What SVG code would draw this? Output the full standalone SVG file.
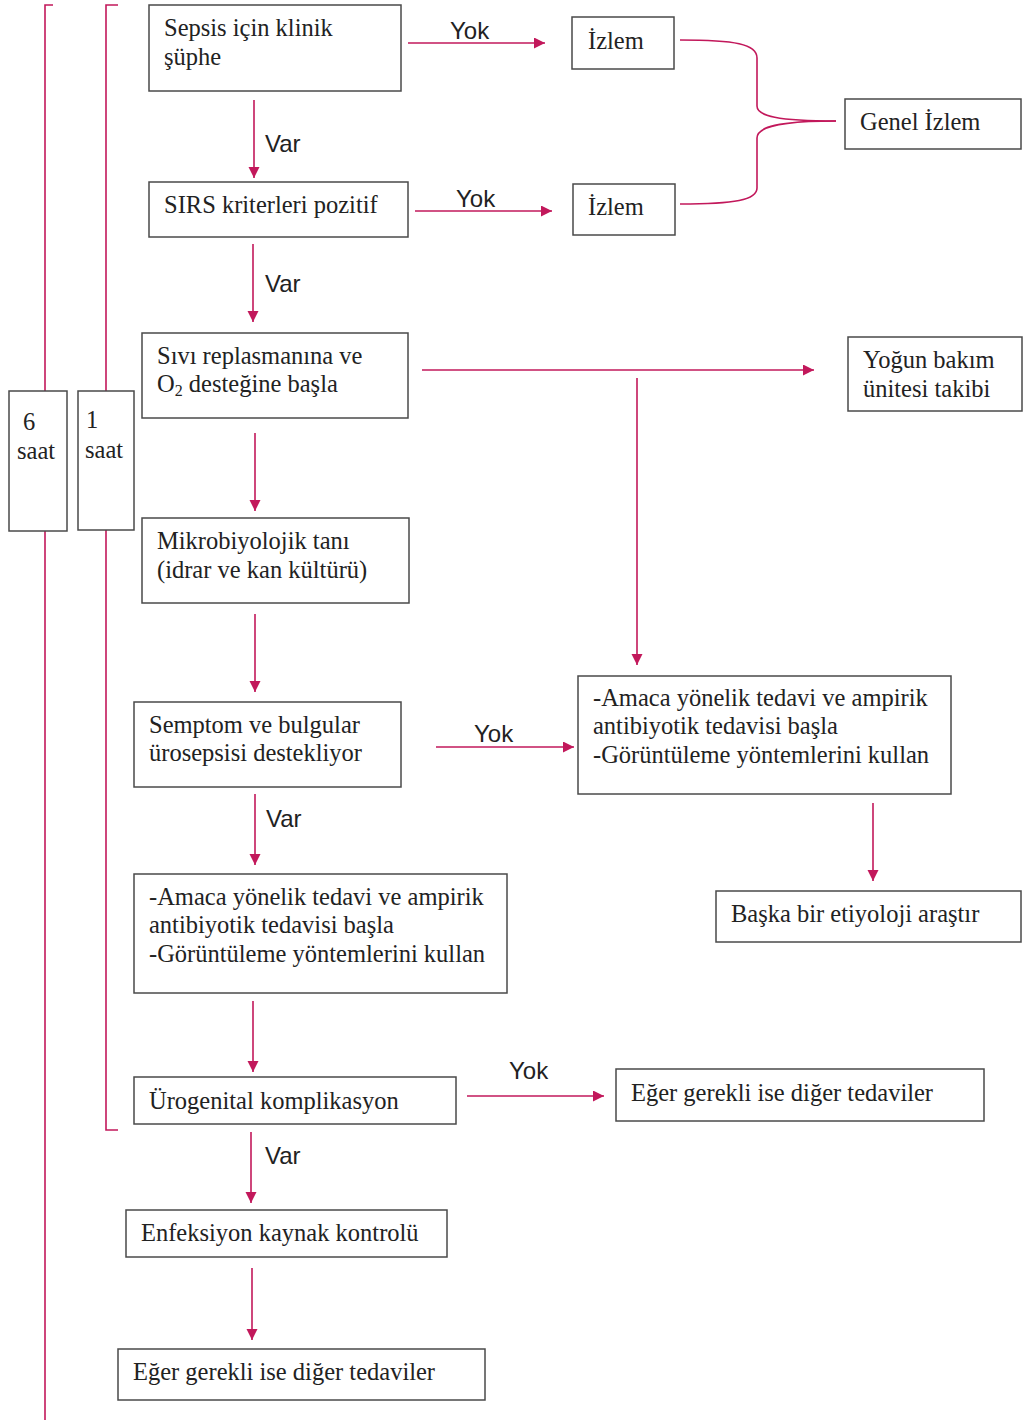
<svg xmlns="http://www.w3.org/2000/svg" width="1027" height="1420" viewBox="0 0 1027 1420">
<style>
.box{fill:#fff;stroke:#4a4a4a;stroke-width:1.5}
.t{font-family:"Liberation Serif","Times New Roman",serif;font-size:24.5px;fill:#222}
.l{font-family:"Liberation Sans",Arial,sans-serif;font-size:24px;fill:#222}
.c{fill:none;stroke:#c2185b;stroke-width:1.6}
.br{fill:none;stroke:#c2185b;stroke-width:1.6}
</style>
<defs>
<marker id="ah" markerUnits="userSpaceOnUse" markerWidth="12" markerHeight="12" refX="11" refY="5.5" orient="auto">
<path d="M0,0 L11,5.5 L0,11 z" fill="#c2185b"/>
</marker>
</defs>
<rect width="1027" height="1420" fill="#fff"/>
<g id="brackets">
<path class="br" d="M53,5 H45 V1420"/>
<path class="br" d="M118,5 H106 V1130 H118"/>
</g>
<g id="connectors">
<line class="c" x1="408" y1="43" x2="545" y2="43" marker-end="url(#ah)"/>
<text class="l" x="450" y="39">Yok</text>
<line class="c" x1="254" y1="100" x2="254" y2="178" marker-end="url(#ah)"/>
<text class="l" x="265" y="152">Var</text>
<line class="c" x1="415" y1="211" x2="552" y2="211" marker-end="url(#ah)"/>
<text class="l" x="456" y="207">Yok</text>
<line class="c" x1="253" y1="244" x2="253" y2="322" marker-end="url(#ah)"/>
<text class="l" x="265" y="292">Var</text>
<path class="c" d="M680,40 C735,40 757,44 757,58 L757,106 C757,116 778,121 836,121"/>
<path class="c" d="M680,204 C735,204 757,200 757,188 L757,138 C757,127 778,121 836,121"/>
<line class="c" x1="422" y1="370" x2="814" y2="370" marker-end="url(#ah)"/>
<line class="c" x1="637" y1="378" x2="637" y2="665" marker-end="url(#ah)"/>
<line class="c" x1="255" y1="433" x2="255" y2="511" marker-end="url(#ah)"/>
<line class="c" x1="255" y1="614" x2="255" y2="692" marker-end="url(#ah)"/>
<line class="c" x1="436" y1="747" x2="574" y2="747" marker-end="url(#ah)"/>
<text class="l" x="474" y="742">Yok</text>
<line class="c" x1="255" y1="794" x2="255" y2="865" marker-end="url(#ah)"/>
<text class="l" x="266" y="827">Var</text>
<line class="c" x1="873" y1="803" x2="873" y2="881" marker-end="url(#ah)"/>
<line class="c" x1="253" y1="1001" x2="253" y2="1072" marker-end="url(#ah)"/>
<line class="c" x1="467" y1="1096" x2="604" y2="1096" marker-end="url(#ah)"/>
<text class="l" x="509" y="1079">Yok</text>
<line class="c" x1="251" y1="1132" x2="251" y2="1203" marker-end="url(#ah)"/>
<text class="l" x="265" y="1164">Var</text>
<line class="c" x1="252" y1="1268" x2="252" y2="1340" marker-end="url(#ah)"/>
</g>
<g id="n-sepsis"><rect class="box" x="149" y="5" width="252" height="86"/><text class="t" x="164" y="36">Sepsis için klinik</text><text class="t" x="164" y="65">şüphe</text></g>
<g id="n-izlem1"><rect class="box" x="572" y="17" width="102" height="52"/><text class="t" x="588" y="49">İzlem</text></g>
<g id="n-genel"><rect class="box" x="845" y="99" width="176" height="50"/><text class="t" x="860" y="130">Genel İzlem</text></g>
<g id="n-sirs"><rect class="box" x="149" y="182" width="259" height="55"/><text class="t" x="164" y="213">SIRS kriterleri pozitif</text></g>
<g id="n-izlem2"><rect class="box" x="573" y="184" width="102" height="51"/><text class="t" x="588" y="215">İzlem</text></g>
<g id="n-sivi"><rect class="box" x="142" y="333" width="266" height="85"/><text class="t" x="157" y="364">Sıvı replasmanına ve</text><text class="t" x="157" y="392">O<tspan font-size="16" dy="4">2</tspan><tspan dy="-4"> desteğine başla</tspan></text></g>
<g id="n-yogun"><rect class="box" x="848" y="337" width="174" height="74"/><text class="t" x="863" y="368">Yoğun bakım</text><text class="t" x="863" y="397">ünitesi takibi</text></g>
<g id="n-6saat"><rect class="box" x="9" y="391" width="58" height="140"/><text class="t" x="23" y="430">6</text><text class="t" x="17" y="459">saat</text></g>
<g id="n-1saat"><rect class="box" x="78" y="391" width="56" height="139"/><text class="t" x="86" y="428">1</text><text class="t" x="85" y="458">saat</text></g>
<g id="n-mikro"><rect class="box" x="142" y="518" width="267" height="85"/><text class="t" x="157" y="549">Mikrobiyolojik tanı</text><text class="t" x="157" y="578">(idrar ve kan kültürü)</text></g>
<g id="n-semptom"><rect class="box" x="134" y="702" width="267" height="85"/><text class="t" x="149" y="733">Semptom ve bulgular</text><text class="t" x="149" y="761">ürosepsisi destekliyor</text></g>
<g id="n-amaca-r"><rect class="box" x="578" y="676" width="373" height="118"/><text class="t" x="593" y="706">-Amaca yönelik tedavi ve ampirik</text><text class="t" x="593" y="734">antibiyotik tedavisi başla</text><text class="t" x="593" y="763">-Görüntüleme yöntemlerini kullan</text></g>
<g id="n-baska"><rect class="box" x="716" y="891" width="305" height="51"/><text class="t" x="731" y="922">Başka bir etiyoloji araştır</text></g>
<g id="n-amaca-l"><rect class="box" x="134" y="874" width="373" height="119"/><text class="t" x="149" y="905">-Amaca yönelik tedavi ve ampirik</text><text class="t" x="149" y="933">antibiyotik tedavisi başla</text><text class="t" x="149" y="962">-Görüntüleme yöntemlerini kullan</text></g>
<g id="n-uro"><rect class="box" x="134" y="1077" width="322" height="47"/><text class="t" x="149" y="1109">Ürogenital komplikasyon</text></g>
<g id="n-eger-r"><rect class="box" x="616" y="1069" width="368" height="52"/><text class="t" x="631" y="1101">Eğer gerekli ise diğer tedaviler</text></g>
<g id="n-enf"><rect class="box" x="126" y="1210" width="321" height="47"/><text class="t" x="141" y="1241">Enfeksiyon kaynak kontrolü</text></g>
<g id="n-eger-b"><rect class="box" x="118" y="1349" width="367" height="51"/><text class="t" x="133" y="1380">Eğer gerekli ise diğer tedaviler</text></g>
</svg>
